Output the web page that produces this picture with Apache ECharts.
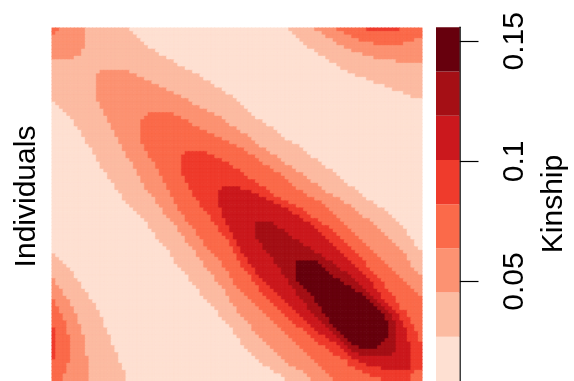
<!DOCTYPE html>
<html><head><meta charset="utf-8">
<script src="https://cdn.jsdelivr.net/npm/echarts@6/dist/echarts.min.js"></script>
<style>html,body{margin:0;padding:0;background:#fff}#c{width:574px;height:381px}</style>
</head><body><div id="c"></div>
<script>
// colour classes of the kinship scale (light -> dark)
const levelColors = ['#FEE0D2','#FCBBA1','#FC9272','#FB6A4A','#EF3B2C','#CB181D','#A50F15','#67000D'];
// class limits
const levelBreaks = [0.0086,0.0270,0.0454,0.0638,0.0822,0.1006,0.1190,0.1374,0.1558];
// representative kinship value of each class
const levelValues = [0.0178,0.0362,0.0546,0.0730,0.0914,0.1098,0.1282,0.1466];
const colorbarTicks = [0.05, 0.1, 0.15];
const nIndividuals = 100;
// kinship classes read row by row (upper triangle, from the diagonal to the last column):
// "class:lastColumn" runs
const kinshipUpperRuns = [
"3:1,2:8,1:20,0:63,1:70,2:76,3:84,4:93,3:99",
"2:8,1:21,0:64,1:72,2:78,3:99",
"2:8,1:22,0:65,1:73,2:80,3:99",
"2:8,1:23,0:66,1:75,2:82,3:97,2:99",
"2:8,1:24,0:67,1:76,2:86,3:94,2:99",
"2:8,1:25,0:68,1:78,2:99",
"2:7,1:27,0:70,1:80,2:99",
"2:7,1:28,0:71,1:83,2:99",
"1:30,0:73,1:86,2:99",
"1:32,0:74,1:92,2:99",
"1:33,0:76,1:99",
"1:35,0:77,1:99",
"1:12,2:20,1:37,0:79,1:99",
"2:22,1:39,0:81,1:99",
"2:24,1:40,0:84,1:99",
"2:26,1:42,0:86,1:99",
"2:28,1:43,0:89,1:99",
"2:30,1:45,0:91,1:99",
"2:32,1:46,0:94,1:99",
"2:34,1:48,0:96,1:99",
"2:36,1:49,0:99",
"2:37,1:50,0:99",
"2:39,1:51,0:99",
"2:41,1:52,0:99",
"2:25,3:32,2:43,1:53,0:99",
"3:34,2:45,1:54,0:99",
"3:36,2:46,1:56,0:99",
"3:37,2:47,1:57,0:99",
"3:39,2:49,1:59,0:99",
"3:41,2:50,1:60,0:99",
"3:43,2:52,1:61,0:99",
"3:45,2:53,1:62,0:99",
"3:47,2:54,1:64,0:99",
"3:49,2:55,1:66,0:99",
"3:51,2:57,1:67,0:99",
"3:35,4:41,3:52,2:58,1:68,0:99",
"4:43,3:54,2:60,1:69,0:99",
"4:45,3:55,2:61,1:71,0:99",
"4:47,3:56,2:62,1:72,0:99",
"4:48,3:58,2:64,1:73,0:99",
"4:50,3:59,2:65,1:75,0:99",
"4:51,3:61,2:67,1:76,0:99",
"4:52,3:62,2:68,1:77,0:99",
"4:54,3:63,2:69,1:78,0:99",
"4:55,3:64,2:71,1:79,0:99",
"4:45,5:50,4:57,3:65,2:72,1:81,0:99",
"5:53,4:58,3:67,2:73,1:82,0:99",
"5:55,4:59,3:68,2:75,1:83,0:99",
"5:57,4:61,3:70,2:77,1:84,0:99",
"5:59,4:63,3:72,2:78,1:86,0:99",
"5:61,4:65,3:73,2:80,1:87,0:99",
"5:63,4:67,3:74,2:81,1:89,0:99",
"5:64,4:68,3:75,2:82,1:90,0:99",
"5:66,4:69,3:76,2:83,1:91,0:99",
"5:67,4:71,3:77,2:85,1:92,0:99",
"6:59,5:69,4:72,3:78,2:86,1:93,0:99",
"6:60,5:70,4:74,3:79,2:87,1:94,0:99",
"6:62,5:71,4:75,3:80,2:88,1:95,0:99",
"6:63,5:72,4:76,3:81,2:89,1:95,0:99",
"6:64,5:73,4:77,3:82,2:90,1:96,0:99",
"6:66,5:74,4:78,3:83,2:91,1:97,0:99",
"6:67,5:75,4:79,3:84,2:92,1:97,0:99",
"6:69,5:76,4:80,3:85,2:93,1:98,0:99",
"6:70,5:77,4:81,3:86,2:94,1:99",
"6:72,5:78,4:82,3:87,2:95,1:99",
"6:73,5:79,4:83,3:88,2:95,1:99",
"7:71,6:75,5:80,4:84,3:89,2:96,1:99",
"7:72,6:76,5:81,4:84,3:90,2:96,1:99",
"7:73,6:77,5:82,4:85,3:91,2:97,1:99",
"7:74,6:79,5:83,4:86,3:92,2:98,1:99",
"7:75,6:80,5:84,4:87,3:93,2:99",
"7:77,6:81,5:85,4:88,3:94,2:99",
"7:78,6:82,5:86,4:89,3:95,2:99",
"7:80,6:83,5:86,4:89,3:96,2:99",
"7:81,6:84,5:87,4:90,3:97,2:99",
"7:83,6:85,5:88,4:91,3:98,2:99",
"7:84,6:86,5:88,4:92,3:99",
"7:85,6:87,5:89,4:92,3:99",
"7:86,6:88,5:90,4:93,3:99",
"7:87,6:89,5:91,4:93,3:99",
"7:88,6:90,5:92,4:95,3:99",
"7:89,6:91,5:93,4:95,3:99",
"7:89,6:91,5:93,4:96,3:99",
"7:90,6:92,5:94,4:96,3:99",
"7:90,6:92,5:94,4:97,3:99",
"7:90,6:92,5:95,4:97,3:99",
"7:90,6:92,5:95,4:98,3:99",
"7:90,6:92,5:95,4:98,3:99",
"7:89,6:92,5:95,4:98,3:99",
"6:92,5:96,4:99",
"6:92,5:96,4:99",
"6:92,5:96,4:99",
"5:96,4:99",
"5:96,4:99",
"5:96,4:99",
"5:96,4:99",
"5:96,4:99",
"4:97,3:99",
"3:99",
"3:99"
];

// ---- build the (symmetric) matrix of classes from the runs ----
const upper = kinshipUpperRuns.map((s, r) => {
  const row = new Array(nIndividuals).fill(null);
  let c = r;
  s.split(',').forEach(seg => {
    const [lv, end] = seg.split(':').map(Number);
    for (; c <= end; c++) row[c] = lv;
  });
  return row;
});
const individuals = [];
for (let i = 1; i <= nIndividuals; i++) individuals.push(String(i));
const heatData = [];
for (let r = 0; r < nIndividuals; r++) {
  for (let c = 0; c < nIndividuals; c++) {
    const lv = c >= r ? upper[r][c] : upper[c][r];
    heatData.push({value: [c, r, levelValues[lv]],
                   itemStyle: {borderColor: levelColors[lv], borderWidth: 0.4}});
  }
}
const barData = levelColors.map((col, i) => [0, levelBreaks[i], levelBreaks[i + 1], i]);

const FONT = "'Liberation Sans', Arial, Helvetica, sans-serif";
const chart = echarts.init(document.getElementById('c'), null, {renderer: 'canvas'});
chart.setOption({
  animation: false,
  backgroundColor: '#ffffff',
  grid: [
    {left: 52, top: 28, width: 370, height: 353},
    {left: 436, top: 27.3, width: 23.5, height: 355.4}
  ],
  xAxis: [
    {type: 'category', data: individuals, gridIndex: 0, show: false},
    {type: 'category', data: ['key'], gridIndex: 1, show: false}
  ],
  yAxis: [
    {type: 'category', data: individuals, gridIndex: 0, inverse: true, show: false},
    {type: 'value', gridIndex: 1, position: 'right', min: levelBreaks[0], max: levelBreaks[levelBreaks.length - 1],
     splitLine: {show: false},
     axisLine: {show: true, onZero: false, lineStyle: {color: '#000', width: 1.5}},
     axisTick: {show: true, customValues: colorbarTicks, length: 19, lineStyle: {color: '#000', width: 1.2}},
     axisLabel: {show: true, customValues: colorbarTicks, rotate: 90, margin: 40, color: '#000',
       fontFamily: FONT, fontSize: 30,
       formatter: v => String(Number(v.toFixed(2)))}
    }
  ],
  visualMap: {
    type: 'piecewise', show: false, seriesIndex: 0, dimension: 2,
    pieces: levelColors.map((col, i) => ({gte: levelBreaks[i], lt: levelBreaks[i + 1], color: col}))
  },
  series: [
    {type: 'heatmap', xAxisIndex: 0, yAxisIndex: 0, data: heatData, progressive: 0, emphasis: {disabled: true}},
    {type: 'custom', xAxisIndex: 1, yAxisIndex: 1, data: barData, silent: true,
     renderItem: (params, api) => {
       const lo = api.coord([0, api.value(1)]);
       const hi = api.coord([0, api.value(2)]);
       const w = api.size([1, 0])[0];
       return {type: 'rect', shape: {x: lo[0] - w / 2, y: hi[1], width: w, height: lo[1] - hi[1]},
               style: {fill: levelColors[api.value(3)]}};
     }}
  ],
  graphic: [
    {type: 'text', x: 26.6, y: 196.5, rotation: Math.PI / 2,
     style: {text: 'Individuals', font: '30px ' + FONT, fill: '#000', textAlign: 'center', textVerticalAlign: 'middle'}},
    {type: 'text', x: 554, y: 204, rotation: Math.PI / 2,
     style: {text: 'Kinship', font: '30px ' + FONT, fill: '#000', textAlign: 'center', textVerticalAlign: 'middle'}}
  ]
});
</script></body></html>
